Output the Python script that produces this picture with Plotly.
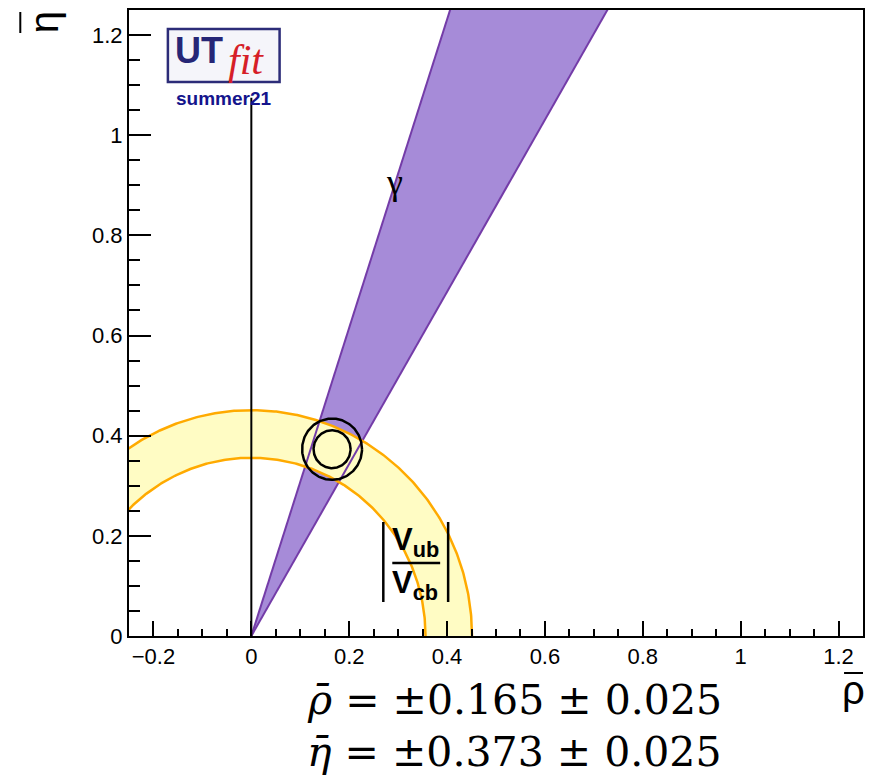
import numpy as np
import plotly.graph_objects as go

# --- constraint values -------------------------------------------------------
rho_fit, eta_fit = 0.165, 0.373          # fitted apex
sigma_fit = 0.025                        # quoted uncertainty
contour_k = [1.515, 2.448]               # 68% / 95% radii in units of sigma (2D)
vub_ring = [0.356, 0.451]                # |Vub/Vcb| band: inner / outer radius
gamma_deg = [59.8, 72.0]                 # gamma band edges (degrees)
rho_axis_line_top = 1.075                # vertical reference line at rho = 0

x_ticks = [-0.2, 0, 0.2, 0.4, 0.6, 0.8, 1, 1.2]
y_ticks = [0, 0.2, 0.4, 0.6, 0.8, 1, 1.2]

# --- geometry of the frame (pixels) -------------------------------------------
W, H = 869, 781
L, R, T, B = 129, 865, 10, 636


def px(x):
    return (x - L) / (R - L)


def py(y):
    return (B - y) / (B - T)


fig = go.Figure()

# gamma band
t_top = 1.35
g_lo, g_hi = np.radians(gamma_deg[0]), np.radians(gamma_deg[1])
gx = [0, t_top / np.tan(g_hi), t_top / np.tan(g_lo), 0]
gy = [0, t_top, t_top, 0]
fig.add_trace(go.Scatter(x=gx, y=gy, fill="toself", mode="none",
                         fillcolor="rgb(166,139,216)", hoverinfo="skip"))

# |Vub/Vcb| ring
phi = np.linspace(0, np.pi, 361)
rx = np.concatenate([vub_ring[1] * np.cos(phi), vub_ring[0] * np.cos(phi[::-1])])
ry = np.concatenate([vub_ring[1] * np.sin(phi), vub_ring[0] * np.sin(phi[::-1])])
fig.add_trace(go.Scatter(x=np.append(rx, rx[0]), y=np.append(ry, ry[0]),
                         fill="toself", mode="none",
                         fillcolor="rgb(255,252,196)", hoverinfo="skip"))

# gamma band edges
for g in (g_lo, g_hi):
    fig.add_trace(go.Scatter(x=[0, t_top / np.tan(g)], y=[0, t_top], mode="lines",
                             line=dict(color="rgb(116,60,168)", width=2),
                             hoverinfo="skip"))

# ring edges
for r in vub_ring:
    fig.add_trace(go.Scatter(x=r * np.cos(phi), y=r * np.sin(phi), mode="lines",
                             line=dict(color="rgb(255,170,0)", width=2.5),
                             hoverinfo="skip"))

# rho = 0 line
fig.add_trace(go.Scatter(x=[0, 0], y=[0, rho_axis_line_top], mode="lines",
                         line=dict(color="black", width=2), hoverinfo="skip"))

# probability contours around the fitted apex
th = np.linspace(0, 2 * np.pi, 241)
for k in contour_k:
    r = k * sigma_fit
    fig.add_trace(go.Scatter(x=rho_fit + r * np.cos(th), y=eta_fit + r * np.sin(th),
                             mode="lines", line=dict(color="black", width=2.5),
                             hoverinfo="skip"))

axis_font = dict(family="Liberation Sans, Arial", size=22, color="black")
fig.update_layout(
    width=W, height=H, showlegend=False,
    margin=dict(l=L, r=W - R, t=T, b=H - B),
    paper_bgcolor="white", plot_bgcolor="white",
    xaxis=dict(range=[-0.25, 1.25], tickvals=x_ticks, ticks="inside", ticklen=15,
               tickwidth=2, tickcolor="black", showline=True, linewidth=2,
               linecolor="black", mirror=True, showgrid=False, zeroline=False,
               tickfont=axis_font,
               minor=dict(dtick=0.05, tick0=0, ticks="inside", ticklen=7.5,
                          tickwidth=2, tickcolor="black", showgrid=False)),
    yaxis=dict(range=[0, 1.25], tickvals=y_ticks, ticks="inside", ticklen=22,
               tickwidth=2, tickcolor="black", showline=True, linewidth=2,
               linecolor="black", mirror=True, showgrid=False, zeroline=False,
               tickfont=axis_font,
               minor=dict(dtick=0.05, tick0=0, ticks="inside", ticklen=11,
                          tickwidth=2, tickcolor="black", showgrid=False)),
)

shapes = []
annotations = []


def label(x, y, text, font, **kw):
    annotations.append(dict(xref="paper", yref="paper", x=px(x), y=py(y),
                            xanchor="center", yanchor="middle",
                            text=text, showarrow=False, font=font, **kw))


def seg(x0, y0, x1, y1, color="black", width=2.5):
    shapes.append(dict(type="line", xref="paper", yref="paper",
                       x0=px(x0), x1=px(x1), y0=py(y0), y1=py(y1),
                       line=dict(color=color, width=width)))


# UTfit logo
shapes.append(dict(type="rect", xref="paper", yref="paper",
                   x0=px(168), x1=px(280), y0=py(82), y1=py(29),
                   fillcolor="rgb(245,245,250)",
                   line=dict(color="rgb(44,44,120)", width=2.5)))
label(199, 50, "<b>UT</b>",
      dict(family="Liberation Sans, Arial", size=36, color="rgb(38,38,118)"))
label(246, 60, "<i>fit</i>",
      dict(family="Liberation Serif, Times New Roman", size=42,
           color="rgb(214,30,40)"))
label(224, 98, "<b>summer21</b>",
      dict(family="Liberation Sans, Arial", size=19, color="rgb(20,20,140)"))

# gamma label
label(395, 182, "γ", dict(family="Liberation Serif", size=36, color="black"))

# |Vub/Vcb| label
lab_font = dict(family="Liberation Sans, Arial", size=31, color="black")
label(416, 542, "<b>V<sub>ub</sub></b>", lab_font)
label(416, 585, "<b>V<sub>cb</sub></b>", lab_font)
seg(393, 563, 441, 563)
for xb in (384, 449):
    seg(xb, 522, xb, 602)

# axis titles (bar drawn as a short segment)
title_font = dict(family="Liberation Sans, Arial", size=40, color="black")
label(855, 690, "ρ", title_font)
seg(846, 673, 865, 673, width=2)
label(44, 22, "η", title_font, textangle=-90)
seg(20, 12, 20, 33, width=2)

# fitted values
eq_font = dict(family="DejaVu Serif", size=41, color="black")
label(516, 700, f"<i>ρ̄</i> = ±{rho_fit:.3f} ± {sigma_fit:.3f}", eq_font)
label(516, 752, f"<i>η̄</i> = ±{eta_fit:.3f} ± {sigma_fit:.3f}", eq_font)

fig.update_layout(shapes=shapes, annotations=annotations)
fig.write_html("out.html")
